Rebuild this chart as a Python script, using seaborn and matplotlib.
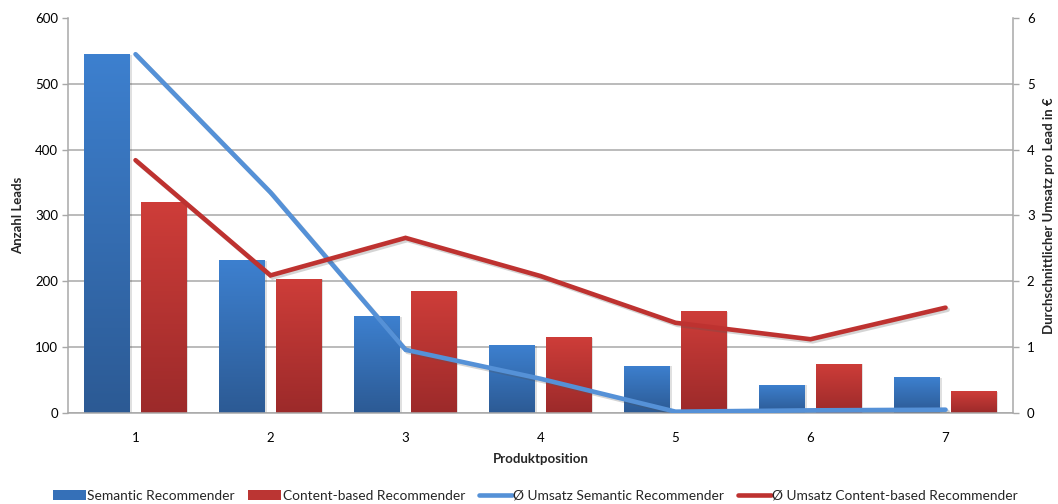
import numpy as np
import pandas as pd
import matplotlib
matplotlib.use("Agg")
import matplotlib.pyplot as plt
import matplotlib.patheffects as pe
from matplotlib.patches import Patch
from matplotlib.lines import Line2D
import seaborn as sns

# Data
positions = ["1", "2", "3", "4", "5", "6", "7"]
leads_semantic = [545, 232, 147, 103, 72, 43, 54]
leads_content = [320, 204, 185, 115, 155, 75, 33]
revenue_semantic = [5.45, 3.35, 0.96, 0.52, 0.02, 0.04, 0.05]
revenue_content = [3.84, 2.09, 2.66, 2.08, 1.37, 1.12, 1.60]

series_names = ["Semantic Recommender", "Content-based Recommender"]
line_names = ["Ø Umsatz Semantic Recommender", "Ø Umsatz Content-based Recommender"]

bar_top = {"Semantic Recommender": "#3D80CF", "Content-based Recommender": "#CE3D39"}
bar_bottom = {"Semantic Recommender": "#2C5A94", "Content-based Recommender": "#9C2A2A"}
line_colors = ["#5591D7", "#BE3230"]

sns.set_theme(style="white")
plt.rcParams["font.family"] = ["Lato", "DejaVu Sans"]

df = pd.DataFrame({
    "Produktposition": positions * 2,
    "Leads": leads_semantic + leads_content,
    "Recommender": [series_names[0]] * len(positions) + [series_names[1]] * len(positions),
})

fig = plt.figure(figsize=(10.58, 5.04), dpi=100)
ax = fig.add_axes([0.0643, 0.1806, 0.8932, 0.7837])

sns.barplot(data=df, x="Produktposition", y="Leads", hue="Recommender",
            palette=bar_top, width=0.84, gap=0.19, legend=False, ax=ax,
            edgecolor="none", zorder=2)

ax.set_xlim(-0.5, len(positions) - 0.5)
ax.set_ylim(0, 600)
ax.set_yticks(np.arange(0, 601, 100))

# Vertical gradient fill for every bar
top_rgb = {k: np.array(matplotlib.colors.to_rgb(v)) for k, v in bar_top.items()}
for patch in list(ax.patches):
    fc = np.array(patch.get_facecolor()[:3])
    key = min(top_rgb, key=lambda k: np.abs(top_rgb[k] - fc).sum())
    c0 = np.array(matplotlib.colors.to_rgb(bar_bottom[key]))
    c1 = top_rgb[key]
    t = np.linspace(0, 1, 256)[:, None, None]
    grad = c0 * (1 - t) + c1 * t
    x0, y0 = patch.get_x(), patch.get_y()
    w, h = patch.get_width(), patch.get_height()
    # soft shadow
    ax.bar(x0 + w / 2 + 0.012, h, width=w, bottom=y0 - 1.2, color="#000000",
           alpha=0.12, zorder=1.5, linewidth=0)
    im = ax.imshow(grad, extent=[x0, x0 + w, y0, y0 + h], origin="lower",
                   aspect="auto", zorder=2.1, interpolation="bilinear")
    im.set_clip_path(patch)

ax.set_xlim(-0.5, len(positions) - 0.5)
ax.set_ylim(0, 600)

# Horizontal grid
ax.set_axisbelow(True)
ax.yaxis.grid(True, color="#A8A8A8", linewidth=1.1)
ax.xaxis.grid(False)
ax.yaxis.get_gridlines()[-1].set_visible(False)

for side in ["top", "right"]:
    ax.spines[side].set_visible(False)
for side in ["left", "bottom"]:
    ax.spines[side].set_color("#A8A8A8")
    ax.spines[side].set_linewidth(1.1)

ax.tick_params(axis="y", which="both", left=True, length=4, width=1.0,
               color="#A8A8A8", labelsize=9.5, pad=3, labelcolor="#000000")
ax.tick_params(axis="x", bottom=False, labelsize=9.5, pad=8, labelcolor="#000000")
ax.set_xlabel("Produktposition", fontsize=9.5, fontweight="bold", labelpad=6)
ax.set_ylabel("Anzahl Leads", fontsize=9.5, fontweight="bold", labelpad=8)

# Secondary axis: average revenue per lead
ax2 = ax.twinx()
x_idx = np.arange(len(positions))
line_df = pd.DataFrame({
    "pos": np.concatenate([x_idx, x_idx]),
    "Umsatz": revenue_semantic + revenue_content,
    "Serie": [line_names[0]] * len(positions) + [line_names[1]] * len(positions),
})
sns.lineplot(data=line_df, x="pos", y="Umsatz", hue="Serie",
             palette=dict(zip(line_names, line_colors)), linewidth=3.3,
             legend=False, ax=ax2, sort=False)
for ln in ax2.lines:
    ln.set_solid_capstyle("round")
    ln.set_solid_joinstyle("miter")
    ln.set_path_effects([pe.SimpleLineShadow(offset=(1.5, -1.5), alpha=0.25, shadow_color="#555555"),
                         pe.Normal()])

ax2.set_xlim(-0.5, len(positions) - 0.5)
ax2.set_ylim(0, 6)
ax2.set_yticks(np.arange(0, 7, 1))
for side in ["top", "left", "bottom"]:
    ax2.spines[side].set_visible(False)
ax2.spines["right"].set_color("#A8A8A8")
ax2.spines["right"].set_linewidth(1.1)
ax2.tick_params(axis="y", right=True, length=4, width=1.0, color="#A8A8A8",
                labelsize=9.5, pad=6, labelcolor="#000000")
ax2.set_xlabel("")
ax2.set_ylabel("Durchschnittlicher Umsatz pro Lead in €", fontsize=9.5,
               fontweight="bold", labelpad=6)
ax2.grid(False)

# Legend along the bottom
handles = [
    Patch(facecolor="#3570B8", edgecolor="none"),
    Patch(facecolor="#BB3533", edgecolor="none"),
    Line2D([0], [0], color=line_colors[0], linewidth=3.3, solid_capstyle="round"),
    Line2D([0], [0], color=line_colors[1], linewidth=3.3, solid_capstyle="round"),
]
fig.legend(handles, series_names + line_names, loc="center", ncol=4,
           bbox_to_anchor=(0.506, 0.016), frameon=False, fontsize=9.9,
           handlelength=2.4, handleheight=0.8, handletextpad=0.1, columnspacing=1.0,
           borderaxespad=0)

fig.savefig("out.png", dpi=100)
